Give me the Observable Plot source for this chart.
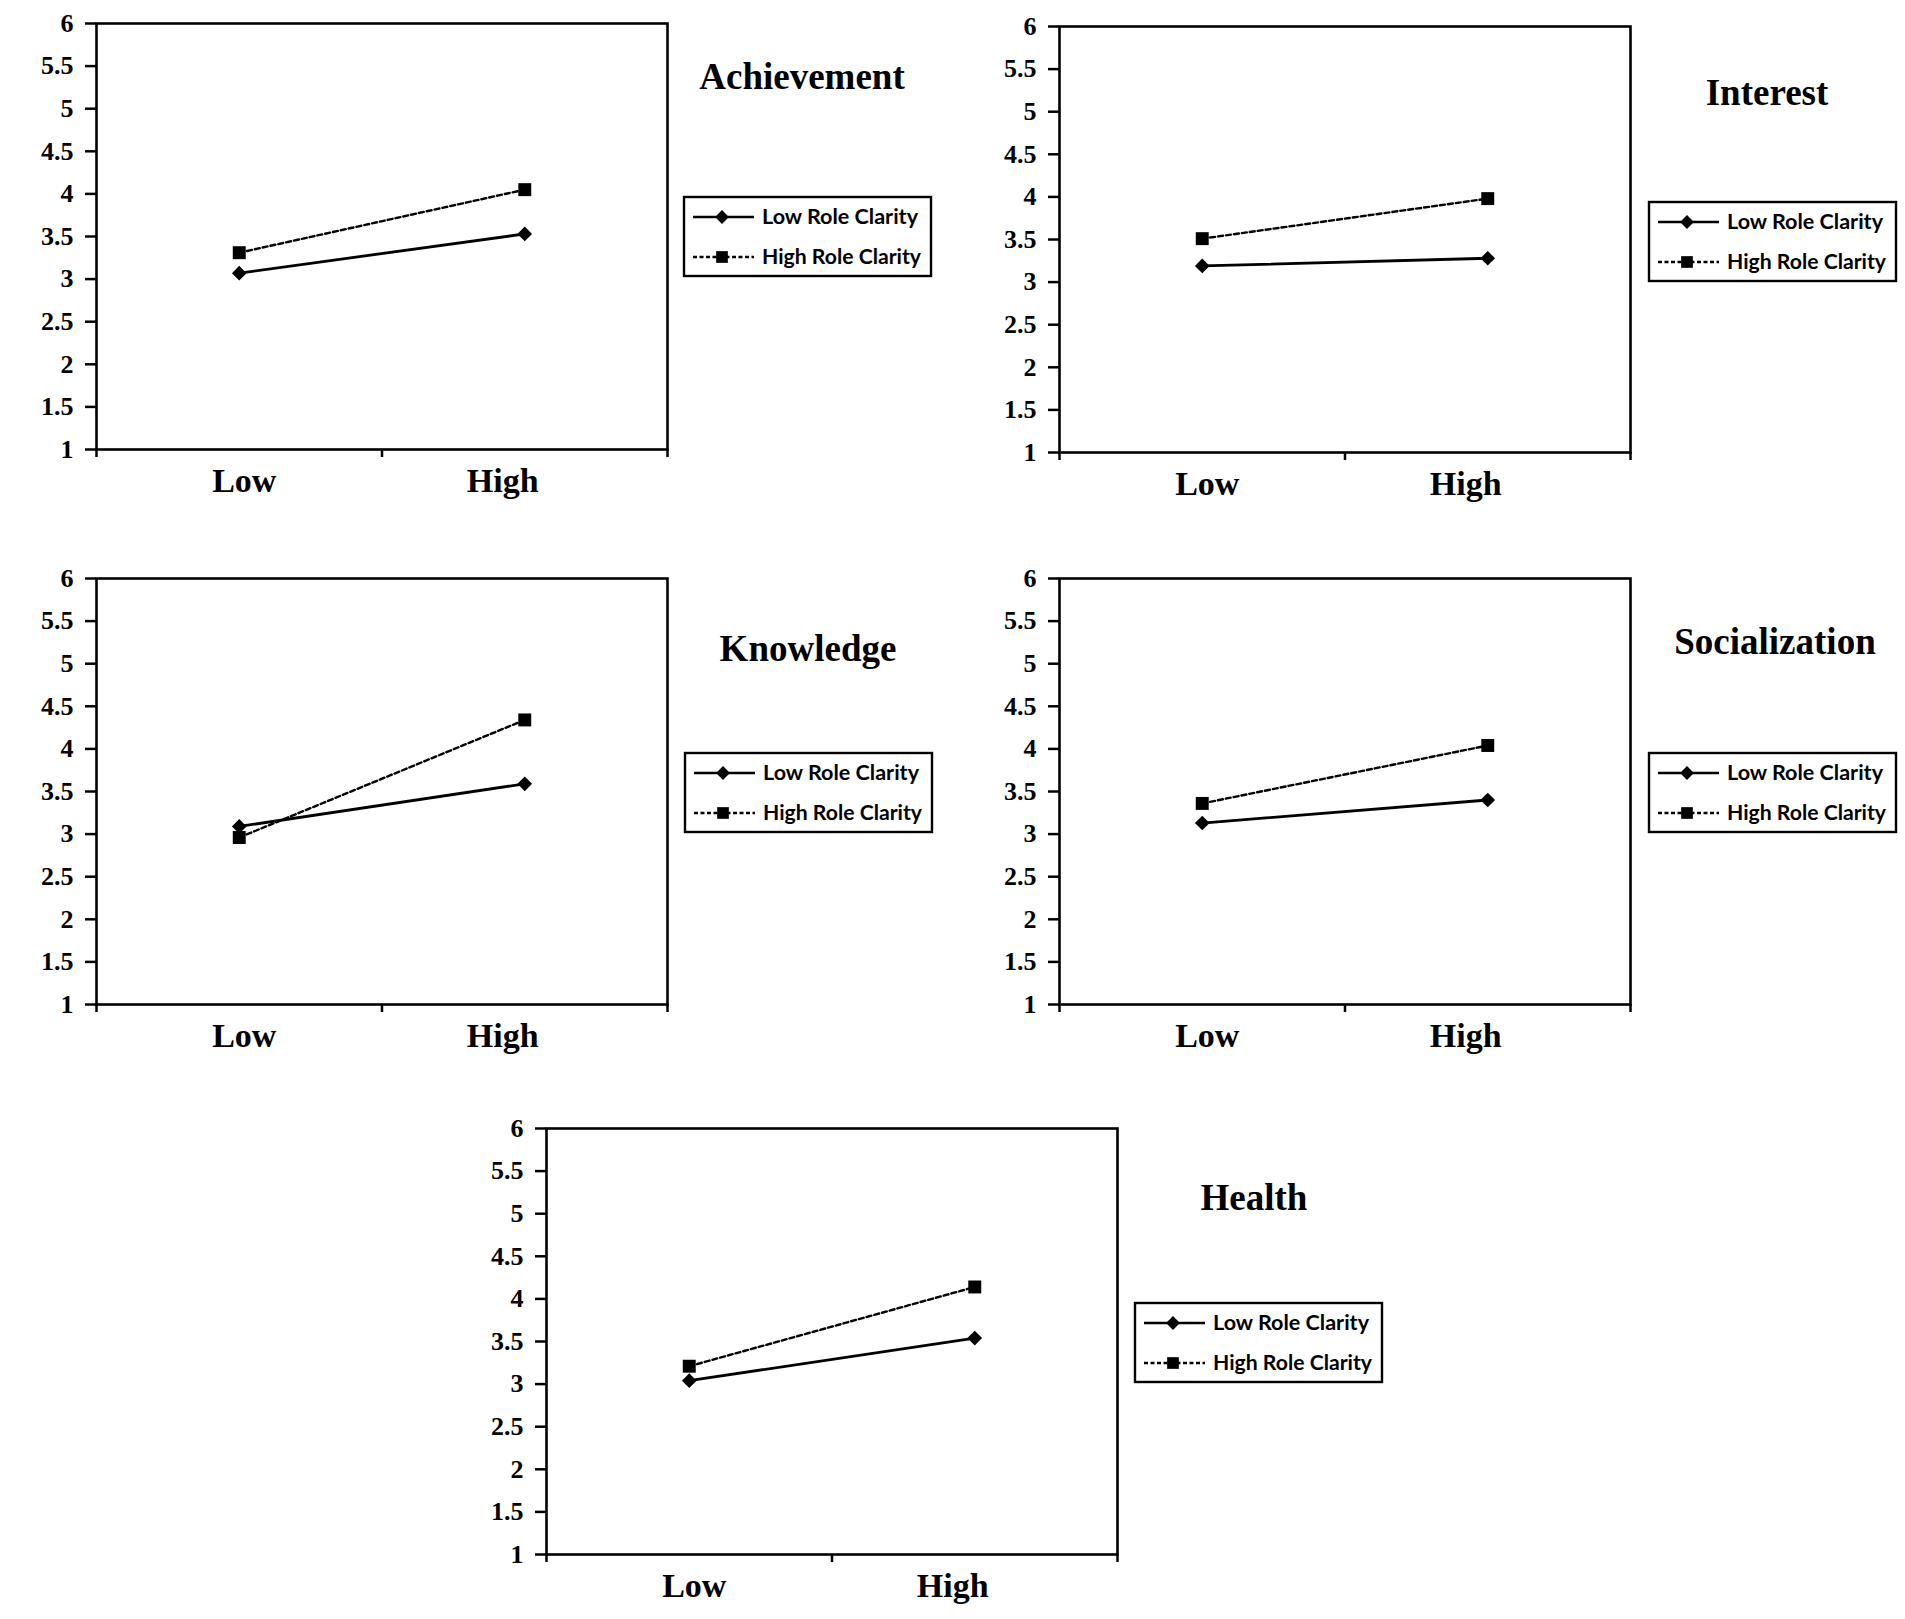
<!DOCTYPE html>
<html><head><meta charset="utf-8">
<script src="https://cdn.jsdelivr.net/npm/d3@7"></script>
<script src="https://cdn.jsdelivr.net/npm/@observablehq/plot@0.6"></script>
<style>
body{margin:0;background:#fff;}
#wrap{position:relative;width:1905px;height:1619px;background:#fff;overflow:hidden;}
.panel{position:absolute;}
#overlay{position:absolute;left:0;top:0;pointer-events:none;}
</style></head>
<body><div id="wrap"></div>
<script>
// ---- data ----
const panelNames = ["Achievement", "Interest", "Knowledge", "Socialization", "Health"];
const levels = ["Low", "High"];
const seriesNames = ["Low Role Clarity", "High Role Clarity"];
const lowClarityAtLow   = [3.07, 3.19, 3.09, 3.13, 3.04];
const lowClarityAtHigh  = [3.53, 3.28, 3.59, 3.40, 3.54];
const highClarityAtLow  = [3.31, 3.51, 2.96, 3.36, 3.21];
const highClarityAtHigh = [4.05, 3.98, 4.34, 4.04, 4.14];
const yTicks = [1, 1.5, 2, 2.5, 3, 3.5, 4, 4.5, 5, 5.5, 6];

// ---- layout ----
const frames = [ {left: 96, top: 23}, {left: 1059, top: 26}, {left: 96, top: 578}, {left: 1059, top: 578}, {left: 546, top: 1128} ];
const titlePos = [ [802, 89], [1767, 105], [808, 661], [1775, 654], [1254, 1210] ];
const legendPos = [ [683, 196], [1648, 201], [684, 752], [1648, 752], [1134, 1302] ];
const FW = 571, FH = 426, ML = 70, MR = 10, MT = 22, MB = 66;

const wrap = document.getElementById("wrap");
const serif = "'Liberation Serif', 'Times New Roman', serif";

panelNames.forEach((name, i) => {
  const rows = [
    {series: seriesNames[0], level: levels[0], value: lowClarityAtLow[i]},
    {series: seriesNames[0], level: levels[1], value: lowClarityAtHigh[i]},
    {series: seriesNames[1], level: levels[0], value: highClarityAtLow[i]},
    {series: seriesNames[1], level: levels[1], value: highClarityAtHigh[i]}
  ];
  const xPos = d => levels.indexOf(d.level) + 0.5;
  const low = rows.filter(d => d.series === seriesNames[0]);
  const high = rows.filter(d => d.series === seriesNames[1]);
  const labelStyle = {tickSize: 0, tickPadding: 18, fontSize: 34, fontWeight: "bold", fontFamily: serif, label: null};
  const chart = Plot.plot({
    width: ML + FW + MR,
    height: MT + FH + MB,
    marginLeft: ML, marginRight: MR, marginTop: MT, marginBottom: MB,
    style: {fontFamily: serif, color: "black", background: "white"},
    x: {type: "linear", domain: [0, 2]},
    y: {domain: [1, 6]},
    marks: [
      Plot.axisY({ticks: yTicks, tickFormat: d => String(d), tickSize: 11, tickPadding: 12, strokeWidth: 2.5,
                  fontSize: 26, fontWeight: "bold", fontFamily: serif, label: null}),
      Plot.axisX({ticks: [0, 1, 2], tickSize: 8, strokeWidth: 2.5, tickFormat: () => "", label: null}),
      Plot.axisX({ticks: [0.5], tickFormat: d => levels[Math.floor(d)], dx: 5, ...labelStyle}),
      Plot.axisX({ticks: [1.5], tickFormat: d => levels[Math.floor(d)], dx: -22, ...labelStyle}),
      Plot.frame({stroke: "black", strokeWidth: 2.6}),
      Plot.line(high, {x: xPos, y: "value", stroke: "black", strokeWidth: 2.4, strokeDasharray: "5,3"}),
      Plot.line(low, {x: xPos, y: "value", stroke: "black", strokeWidth: 2.8}),
      Plot.dot(high, {x: xPos, y: "value", symbol: "square", r: 7.3, fill: "black", stroke: "none"}),
      Plot.dot(low, {x: xPos, y: "value", symbol: "diamond2", r: 6.6, fill: "black", stroke: "none"})
    ]
  });
  chart.classList.add("panel");
  chart.style.left = (frames[i].left - ML) + "px";
  chart.style.top = (frames[i].top - MT) + "px";
  wrap.appendChild(chart);
});

// ---- titles and legends ----
const overlay = d3.create("svg").attr("id", "overlay").attr("width", 1905).attr("height", 1619);
panelNames.forEach((name, i) => {
  overlay.append("text").attr("x", titlePos[i][0]).attr("y", titlePos[i][1])
    .attr("text-anchor", "middle").attr("font-family", serif).attr("font-weight", "bold")
    .attr("font-size", 37).attr("fill", "black").text(name);
  const g = overlay.append("g").attr("transform", `translate(${legendPos[i][0]},${legendPos[i][1]})`);
  g.append("rect").attr("x", 1).attr("y", 1).attr("width", 247).attr("height", 79)
    .attr("fill", "white").attr("stroke", "black").attr("stroke-width", 2.4);
  const rowsY = [21, 61];
  const textLen = [156, 159];
  seriesNames.forEach((s, k) => {
    g.append("line").attr("x1", 10).attr("x2", 71).attr("y1", rowsY[k]).attr("y2", rowsY[k])
      .attr("stroke", "black").attr("stroke-width", 2.4)
      .attr("stroke-dasharray", k === 1 ? "4,2.5" : null);
    const sym = k === 0 ? d3.symbol(d3.symbolDiamond2, Math.PI * 6.2 * 6.2) : d3.symbol(d3.symbolSquare, Math.PI * 6.6 * 6.6);
    g.append("path").attr("d", sym()).attr("transform", `translate(39,${rowsY[k]})`).attr("fill", "black");
    g.append("text").attr("x", 79).attr("y", rowsY[k] + 7)
      .attr("font-family", "Lato, 'Open Sans', sans-serif").attr("font-weight", "bold")
      .attr("font-size", 21).attr("fill", "black")
      .attr("textLength", textLen[k]).attr("lengthAdjust", "spacingAndGlyphs").text(s);
  });
});
wrap.appendChild(overlay.node());
</script>
</body></html>
